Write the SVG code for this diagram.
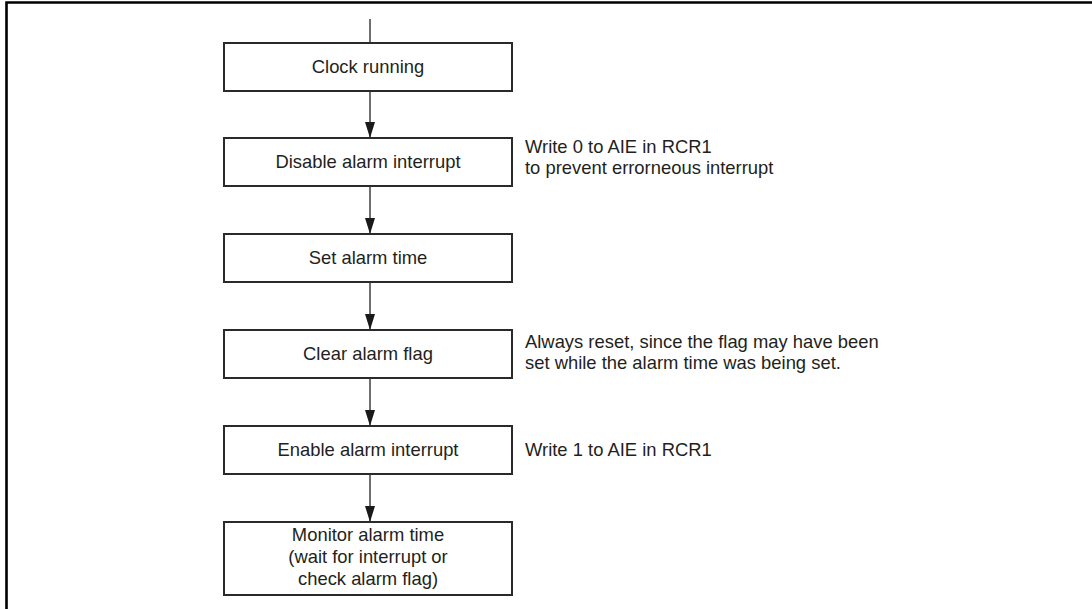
<svg xmlns="http://www.w3.org/2000/svg" width="1092" height="609" viewBox="0 0 1092 609">
<defs>
<style>
.box{fill:#fff;stroke:#2a2a2a;stroke-width:2}
.lbl{font-family:"Liberation Sans",Arial,sans-serif;font-size:18.4px;fill:#231f20}
.c{text-anchor:middle}
.conn{stroke:#333;stroke-width:1.4;fill:none}
</style>
<marker id="ah" markerWidth="16" markerHeight="10" refX="16" refY="5" orient="auto" markerUnits="userSpaceOnUse" viewBox="0 0 16 10">
<path d="M0,0 L16,5 L0,10 Z" fill="#1a1a1a"/>
</marker>
</defs>
<rect width="1092" height="609" fill="#fff"/>
<path d="M6.5,609 V2.5 H1092" fill="none" stroke="#000" stroke-width="2.6"/>
<g id="connectors">
<line class="conn" x1="370" y1="19" x2="370" y2="43"/>
<path class="conn" d="M370,91 V138" marker-end="url(#ah)"/>
<path class="conn" d="M370,186 V234" marker-end="url(#ah)"/>
<path class="conn" d="M370,282 V330" marker-end="url(#ah)"/>
<path class="conn" d="M370,378 V426" marker-end="url(#ah)"/>
<path class="conn" d="M370,474 V522" marker-end="url(#ah)"/>
</g>
<g id="n1">
<rect class="box" x="224" y="43" width="288" height="48"/>
<text class="lbl c" x="368" y="73">Clock running</text>
</g>
<g id="n2">
<rect class="box" x="224" y="138" width="288" height="48"/>
<text class="lbl c" x="368" y="168">Disable alarm interrupt</text>
</g>
<g id="n3">
<rect class="box" x="224" y="234" width="288" height="48"/>
<text class="lbl c" x="368" y="264">Set alarm time</text>
</g>
<g id="n4">
<rect class="box" x="224" y="330" width="288" height="48"/>
<text class="lbl c" x="368" y="360">Clear alarm flag</text>
</g>
<g id="n5">
<rect class="box" x="224" y="426" width="288" height="48"/>
<text class="lbl c" x="368" y="456">Enable alarm interrupt</text>
</g>
<g id="n6">
<rect class="box" x="224" y="522" width="288" height="73"/>
<text class="lbl c" x="368" y="541">Monitor alarm time</text>
<text class="lbl c" x="368" y="563">(wait for interrupt or</text>
<text class="lbl c" x="368" y="585">check alarm flag)</text>
</g>
<g id="notes">
<text class="lbl" x="525" y="153">Write 0 to AIE in RCR1</text>
<text class="lbl" x="525" y="174">to prevent errorneous interrupt</text>
<text class="lbl" x="525" y="348">Always reset, since the flag may have been</text>
<text class="lbl" x="525" y="369">set while the alarm time was being set.</text>
<text class="lbl" x="525" y="456">Write 1 to AIE in RCR1</text>
</g>
</svg>
